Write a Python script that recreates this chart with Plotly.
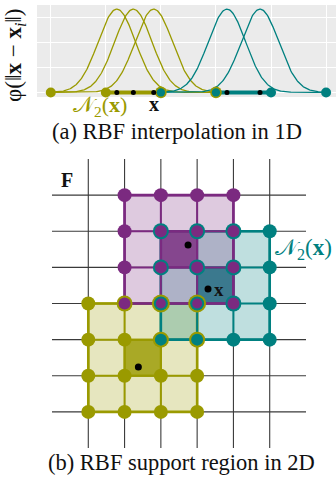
import numpy as np
import plotly.graph_objects as go

# ---------------- data: (a) 1D panel ----------------
nodes_1d = [0, 1, 2, 3, 4, 5]
olive_nodes_1d = [0, 1, 2, 3]
teal_nodes_1d = [2, 3, 4, 5]
olive_centers_1d = [1.2, 1.5, 1.87]
teal_centers_1d = [3.2, 3.8]
olive_segment_1d = [1, 2]
teal_segment_1d = [3, 4]
rbf_sigma = 0.34
y_gridlines_1d = [0, 0.3, 0.6, 0.9]
x_label_point_1d = 1.87

# ---------------- data: (b) 2D panel ----------------
grid_cols = [0, 1, 2, 3, 4, 5]
grid_rows = [0, 1, 2, 3, 4, 5, 6]
region_order = ["olive", "teal", "purple"]
eval_points_2d = {"olive": (1.38, 4.76), "teal": (3.3, 2.6), "purple": (2.75, 1.38)}
support_nodes = 4

# ---------------- style ----------------
COL = {"olive": "#9A9A00", "teal": "#008080", "purple": "#7B2A80"}
RGB = {"olive": (154, 154, 0), "teal": (0, 128, 128), "purple": (123, 42, 128)}
W, H = 336, 481
SERIF = "Liberation Serif, DejaVu Serif, serif"


def rgba(name, a):
    r, g, b = RGB[name]
    return f"rgba({r},{g},{b},{a})"


def layered(region_nodes, order, base, step):
    out = {n: ([], [], []) for n in order}
    for name in order:
        for node in region_nodes[name]:
            members = [m for m in order if node in region_nodes[m]]
            k = len(members)
            i = members.index(name)
            size = base + step * (k - 1) - 2 * step * i
            xs, ys, ss = out[name]
            xs.append(node[0]); ys.append(node[1]); ss.append(size)
    return out


fig = go.Figure()

# ---------- (a) 1D ----------
xs = np.linspace(min(nodes_1d), max(nodes_1d), 400)
for name, centers, nodes in [("olive", olive_centers_1d, olive_nodes_1d),
                             ("teal", teal_centers_1d, teal_nodes_1d)]:
    lo, hi = min(nodes), max(nodes)
    xr = xs[(xs >= lo) & (xs <= hi)]
    for c in centers:
        fig.add_trace(go.Scatter(x=xr, y=np.exp(-(xr - c) ** 2 / (2 * rbf_sigma ** 2)),
                                 mode="lines", line=dict(color=COL[name], width=1.3),
                                 xaxis="x", yaxis="y", hoverinfo="skip"))
for name, seg in [("olive", olive_segment_1d), ("teal", teal_segment_1d)]:
    fig.add_trace(go.Scatter(x=seg, y=[0, 0], mode="lines",
                             line=dict(color=COL[name], width=4),
                             xaxis="x", yaxis="y", cliponaxis=False))

nodes1 = {"olive": [(n, 0) for n in olive_nodes_1d], "teal": [(n, 0) for n in teal_nodes_1d]}
lay1 = layered(nodes1, ["olive", "teal"], 10, 1.6)
for name in ["olive", "teal"]:
    mx, my, ms = lay1[name]
    fig.add_trace(go.Scatter(x=mx, y=my, mode="markers",
                             marker=dict(color=COL[name], size=ms, opacity=1, line=dict(width=0)),
                             xaxis="x", yaxis="y", cliponaxis=False))
fig.add_trace(go.Scatter(x=olive_centers_1d + teal_centers_1d,
                         y=[0] * (len(olive_centers_1d) + len(teal_centers_1d)),
                         mode="markers", marker=dict(color="black", size=5, opacity=1),
                         xaxis="x", yaxis="y", cliponaxis=False))

# ---------- (b) 2D ----------
gx, gy = [], []
for r in grid_rows:
    gx += [min(grid_cols) - 1, max(grid_cols) + 1, None]
    gy += [r, r, None]
for c in grid_cols:
    gx += [c, c, None]
    gy += [min(grid_rows) - 1, max(grid_rows) + 1, None]
fig.add_trace(go.Scatter(x=gx, y=gy, mode="lines", line=dict(color="#3a3a3a", width=1.1),
                         xaxis="x2", yaxis="y2", hoverinfo="skip"))

region_nodes = {}
for name in region_order:
    ex, ey = eval_points_2d[name]
    fc, fr = int(np.floor(ex)), int(np.floor(ey))
    c0, r0 = fc - (support_nodes // 2 - 1), fr - (support_nodes // 2 - 1)
    c1, r1 = c0 + support_nodes - 1, r0 + support_nodes - 1
    region_nodes[name] = [(c, r) for r in range(r0, r1 + 1) for c in range(c0, c1 + 1)]
    fig.add_trace(go.Scatter(x=[c0, c1, c1, c0, c0], y=[r0, r0, r1, r1, r0],
                             mode="lines", fill="toself", fillcolor=rgba(name, 0.25),
                             line=dict(color=COL[name], width=2.6),
                             xaxis="x2", yaxis="y2", hoverinfo="skip"))
    fig.add_trace(go.Scatter(x=[fc, fc + 1, fc + 1, fc, fc], y=[fr, fr, fr + 1, fr + 1, fr],
                             mode="lines", fill="toself", fillcolor=rgba(name, 0.8),
                             line=dict(color=COL[name], width=2),
                             xaxis="x2", yaxis="y2", hoverinfo="skip"))
    lx, ly = [], []
    for i in range(support_nodes):
        lx += [c0, c1, None]; ly += [r0 + i, r0 + i, None]
        lx += [c0 + i, c0 + i, None]; ly += [r0, r1, None]
    fig.add_trace(go.Scatter(x=lx, y=ly, mode="lines", line=dict(color=COL[name], width=2),
                             xaxis="x2", yaxis="y2", hoverinfo="skip"))

lay2 = layered(region_nodes, region_order, 14, 2)
for name in region_order:
    mx, my, ms = lay2[name]
    fig.add_trace(go.Scatter(x=mx, y=my, mode="markers",
                             marker=dict(color=COL[name], size=ms, opacity=1, line=dict(width=0)),
                             xaxis="x2", yaxis="y2", cliponaxis=False))
fig.add_trace(go.Scatter(x=[eval_points_2d[n][0] for n in region_order],
                         y=[eval_points_2d[n][1] for n in region_order],
                         mode="markers", marker=dict(color="black", size=7, opacity=1),
                         xaxis="x2", yaxis="y2"))


def px_dom_x(a, b):
    return [a / W, b / W]


def px_dom_y(top, bottom):
    return [1 - bottom / H, 1 - top / H]


fig.update_layout(
    width=W, height=H, margin=dict(l=0, r=0, t=0, b=0),
    paper_bgcolor="white", plot_bgcolor="white", showlegend=False,
    xaxis=dict(domain=px_dom_x(37, 336), range=[-0.25, 5.18], tickvals=nodes_1d,
               showticklabels=False, ticks="", gridcolor="white", gridwidth=1,
               zeroline=False, showline=False, fixedrange=True),
    yaxis=dict(domain=px_dom_y(5, 97), range=[-0.055, 1.05], tickvals=y_gridlines_1d,
               showticklabels=False, ticks="", gridcolor="white", gridwidth=1,
               zeroline=False, showline=False, fixedrange=True),
    xaxis2=dict(domain=px_dom_x(52, 306), range=[min(grid_cols) - 1, max(grid_cols) + 1],
                visible=False, anchor="y2"),
    yaxis2=dict(domain=px_dom_y(159, 448), range=[max(grid_rows) + 1, min(grid_rows) - 1],
                visible=False, anchor="x2"),
    shapes=[dict(type="rect", xref="x domain", yref="y domain", x0=0, x1=1, y0=0, y1=1,
                 fillcolor="#EBEBEB", line=dict(width=0), layer="below")],
)


def A(text, x, y, xref="paper", yref="paper", size=20, color="#111", xanchor="center", **kw):
    return dict(text=text, x=x, y=y, xref=xref, yref=yref, showarrow=False,
                xanchor=xanchor, yanchor="middle",
                font=dict(family=SERIF, size=size, color=color), **kw)


ann = [
    A("φ(‖<b>x</b> − <b>x</b><sub><i>i</i></sub>‖)", 15 / W, 1 - 55 / H, size=23, textangle=-90),
    A("𝒩<sub>2</sub>(<b>x</b>)", 100 / W, 1 - 106 / H, size=22, color=COL["olive"]),
    A("<b>x</b>", x_label_point_1d, 1 - 104 / H, xref="x", size=20),
    A("(a) RBF interpolation in 1D", 177 / W, 1 - 131 / H, size=22.5),
    A("<b>F</b>", -0.58, -0.42, xref="x2", yref="y2", size=20),
    A("𝒩<sub>2</sub>(<b>x</b>)", 5.1, 1.5, xref="x2", yref="y2", size=23,
      color=COL["teal"], xanchor="left"),
    A("<b>x</b>", eval_points_2d["teal"][0] + 0.1, eval_points_2d["teal"][1], xref="x2",
      yref="y2", size=19, xanchor="left"),
    A("(b) RBF support region in 2D", 181 / W, 1 - 462 / H, size=22.5),
]
fig.update_layout(annotations=ann)

fig.write_html("out.html")
